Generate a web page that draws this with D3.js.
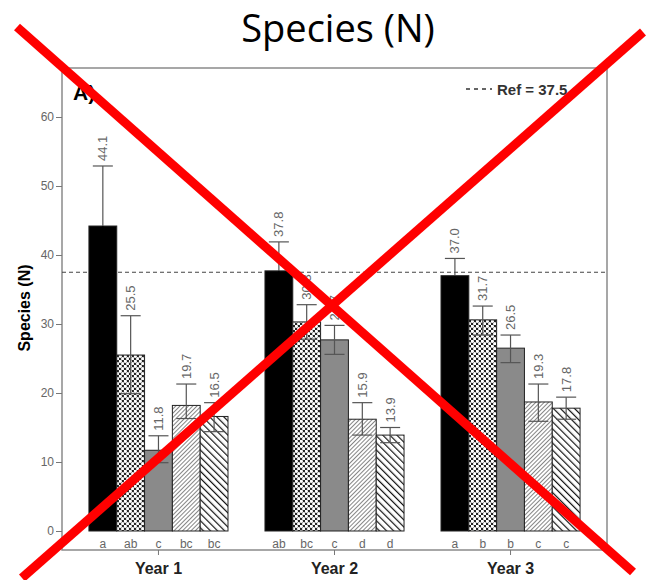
<!DOCTYPE html>
<html lang="en">
<head>
<meta charset="UTF-8">
<script src="https://d3js.org/d3.v7.min.js"></script>
<style>
body { margin: 0; background: #fff; }
svg { display: block; }
.tick text { font-family: "Liberation Sans", Arial, sans-serif; font-size: 12px; fill: #666; }
.tick line { stroke: #777; }
</style>
</head>
<body>
<div id="chart"></div>
<script>
// data
const years = ["Year 1", "Year 2", "Year 3"];
const treatments = ["t1", "t2", "t3", "t4", "t5"];

// bar heights
const means = [
  [44.2, 25.5, 11.7, 18.2, 16.6],
  [37.7, 30.3, 27.7, 16.2, 13.9],
  [37.0, 30.6, 26.5, 18.7, 17.8]
];
// error bar ends
const errTop = [
  [52.9, 31.2, 13.8, 21.3, 18.6],
  [41.9, 32.8, 29.8, 18.6, 15.0],
  [39.5, 32.6, 28.4, 21.3, 19.4]
];
const errLow = [
  [35.5, 19.9, 9.9, 16.3, 14.4],
  [33.5, 27.8, 25.6, 13.9, 12.8],
  [34.5, 28.4, 24.4, 15.9, 16.2]
];
// printed value labels
const valueLabels = [
  ["44.1", "25.5", "11.8", "19.7", "16.5"],
  ["37.8", "30.3", "27.7", "15.9", "13.9"],
  ["37.0", "31.7", "26.5", "19.3", "17.8"]
];
// significance letters
const letters = [
  ["a", "ab", "c", "bc", "bc"],
  ["ab", "bc", "c", "d", "d"],
  ["a", "b", "b", "c", "c"]
];
const yTicks = [0, 10, 20, 30, 40, 50, 60];
const refValue = 37.5;

const width = 650, height = 580;
const frame = { left: 62, right: 607, top: 68, bottom: 550 };

const svg = d3.select("#chart").append("svg")
  .attr("width", width)
  .attr("height", height);

// fill patterns
const defs = svg.append("defs");

const p2 = defs.append("pattern").attr("id", "dots")
  .attr("patternUnits", "userSpaceOnUse").attr("width", 5).attr("height", 5);
p2.append("rect").attr("width", 5).attr("height", 5).attr("fill", "#222");
p2.append("circle").attr("cx", 1.25).attr("cy", 1.25).attr("r", 1.65).attr("fill", "#fff");
p2.append("circle").attr("cx", 3.75).attr("cy", 3.75).attr("r", 1.65).attr("fill", "#fff");

const p4 = defs.append("pattern").attr("id", "fwd")
  .attr("patternUnits", "userSpaceOnUse").attr("width", 3).attr("height", 3)
  .attr("patternTransform", "rotate(45)");
p4.append("rect").attr("width", 3).attr("height", 3).attr("fill", "#fff");
p4.append("line").attr("x1", 0).attr("y1", 0).attr("x2", 0).attr("y2", 3)
  .attr("stroke", "#444").attr("stroke-width", 1.3);

const p5 = defs.append("pattern").attr("id", "back")
  .attr("patternUnits", "userSpaceOnUse").attr("width", 5).attr("height", 5)
  .attr("patternTransform", "rotate(-45)");
p5.append("rect").attr("width", 5).attr("height", 5).attr("fill", "#fff");
p5.append("line").attr("x1", 0).attr("y1", 0).attr("x2", 0).attr("y2", 5)
  .attr("stroke", "#111").attr("stroke-width", 2.4);

const fills = ["#000", "url(#dots)", "#8a8a8a", "url(#fwd)", "url(#back)"];

// scales
const x0 = d3.scaleBand().domain(years)
  .range([frame.left, frame.right])
  .paddingInner(0.21).paddingOuter(0.153);
const x1 = d3.scaleBand().domain(treatments)
  .range([0, x0.bandwidth()]);
const y = d3.scaleLinear().domain([0, 60]).range([531, 117]);

// title
svg.append("text")
  .attr("x", 338).attr("y", 42)
  .attr("text-anchor", "middle")
  .style("font-family", "'Open Sans', sans-serif")
  .style("font-size", "38px")
  .text("Species (N)");

// frame
svg.append("rect")
  .attr("x", frame.left).attr("y", frame.top)
  .attr("width", frame.right - frame.left)
  .attr("height", frame.bottom - frame.top)
  .attr("fill", "none").attr("stroke", "#8a8a8a").attr("stroke-width", 1.5);

// y axis
const yAxis = svg.append("g")
  .attr("transform", `translate(${frame.left},0)`)
  .call(d3.axisLeft(y).tickValues(yTicks).tickSize(6).tickPadding(2));
yAxis.select(".domain").remove();

svg.append("text")
  .attr("transform", "translate(30,308) rotate(-90)")
  .attr("text-anchor", "middle")
  .style("font-family", "'Liberation Sans', Arial, sans-serif")
  .style("font-weight", "bold")
  .style("font-size", "16px")
  .text("Species (N)");

// panel label
svg.append("text")
  .attr("x", 73).attr("y", 100)
  .style("font-family", "'Liberation Sans', Arial, sans-serif")
  .style("font-weight", "bold")
  .style("font-size", "21px")
  .text("A)");

// reference line
svg.append("line")
  .attr("x1", frame.left).attr("x2", frame.right)
  .attr("y1", y(refValue)).attr("y2", y(refValue))
  .attr("stroke", "#444").attr("stroke-width", 1.2)
  .attr("stroke-dasharray", "4,3");

// legend
svg.append("line")
  .attr("x1", 466).attr("x2", 492)
  .attr("y1", 89).attr("y2", 89)
  .attr("stroke", "#333").attr("stroke-width", 1.6)
  .attr("stroke-dasharray", "4,4");
svg.append("text")
  .attr("x", 497).attr("y", 95)
  .style("font-family", "'Liberation Sans', Arial, sans-serif")
  .style("font-size", "15px")
  .style("font-weight", "bold")
  .style("fill", "#333")
  .text("Ref = " + refValue.toFixed(1));

// bars
const groups = svg.selectAll(".year")
  .data(years)
  .join("g")
  .attr("class", "year")
  .attr("transform", d => `translate(${x0(d)},0)`);

groups.each(function(yr, i) {
  const g = d3.select(this);
  const rows = treatments.map((t, j) => ({
    t, j,
    mean: means[i][j], hi: errTop[i][j], lo: errLow[i][j],
    label: valueLabels[i][j], letter: letters[i][j]
  }));

  g.selectAll("rect.bar")
    .data(rows)
    .join("rect")
    .attr("class", "bar")
    .attr("x", d => x1(d.t))
    .attr("y", d => y(d.mean))
    .attr("width", x1.bandwidth())
    .attr("height", d => y(0) - y(d.mean))
    .attr("fill", d => fills[d.j])
    .attr("stroke", "#222").attr("stroke-width", 1);

  const cap = x1.bandwidth() * 0.36;
  // inside the solid black bars the lower whisker does not show
  const lowColour = d => d.j === 0 ? "#000" : "#555";
  const eb = g.selectAll("g.err")
    .data(rows)
    .join("g")
    .attr("class", "err")
    .attr("transform", d => `translate(${x1(d.t) + x1.bandwidth() / 2},0)`);
  eb.append("line")
    .attr("y1", d => y(d.mean)).attr("y2", d => y(d.hi))
    .attr("stroke", "#555").attr("stroke-width", 1.2);
  eb.append("line")
    .attr("y1", d => y(d.lo)).attr("y2", d => y(d.mean))
    .attr("stroke", lowColour).attr("stroke-width", 1.2);
  eb.append("line")
    .attr("x1", -cap).attr("x2", cap)
    .attr("y1", d => y(d.hi)).attr("y2", d => y(d.hi))
    .attr("stroke", "#555").attr("stroke-width", 1.2);
  eb.append("line")
    .attr("x1", -cap).attr("x2", cap)
    .attr("y1", d => y(d.lo)).attr("y2", d => y(d.lo))
    .attr("stroke", lowColour).attr("stroke-width", 1.2);

  eb.append("text")
    .attr("transform", d => `translate(0,${y(d.hi) - 5}) rotate(-90)`)
    .attr("dy", "0.35em")
    .style("font-family", "'Liberation Sans', Arial, sans-serif")
    .style("font-size", "13px")
    .style("fill", "#666")
    .text(d => d.label);

  eb.append("text")
    .attr("y", 548)
    .attr("text-anchor", "middle")
    .style("font-family", "'Liberation Sans', Arial, sans-serif")
    .style("font-size", "12px")
    .style("fill", "#666")
    .text(d => d.letter);

  // group tick and label
  g.append("line")
    .attr("x1", x0.bandwidth() / 2).attr("x2", x0.bandwidth() / 2)
    .attr("y1", frame.bottom).attr("y2", frame.bottom + 5)
    .attr("stroke", "#777");
  g.append("text")
    .attr("x", x0.bandwidth() / 2).attr("y", 574)
    .attr("text-anchor", "middle")
    .style("font-family", "'Liberation Sans', Arial, sans-serif")
    .style("font-weight", "bold")
    .style("font-size", "16px")
    .style("fill", "#222")
    .text(yr);
});

// red cross over the chart
const cross = [
  { x1: 17, y1: 27, x2: 633, y2: 572 },
  { x1: 643, y1: 32, x2: 22, y2: 578 }
];
svg.selectAll("line.cross")
  .data(cross)
  .join("line")
  .attr("class", "cross")
  .attr("x1", d => d.x1).attr("y1", d => d.y1)
  .attr("x2", d => d.x2).attr("y2", d => d.y2)
  .attr("stroke", "#ff0000").attr("stroke-width", 9);
</script>
</body>
</html>
